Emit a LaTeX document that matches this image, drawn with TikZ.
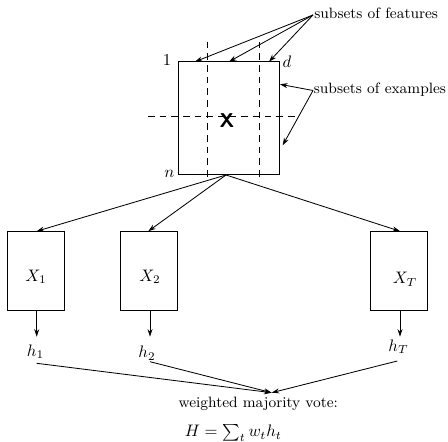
\documentclass[tikz,border=0pt]{standalone}
\usetikzlibrary{arrows.meta}
\begin{document}
\begin{tikzpicture}[x=0.6pt,y=-0.6pt,
  >={Stealth[length=4.5pt,width=3pt]},
  box/.style={draw,line width=0.6pt,inner sep=0pt},
  dashline/.style={line width=0.5pt,dash pattern=on 4pt off 3pt},
  conn/.style={->,line width=0.5pt},
  lbl/.style={font=\fontsize{9}{11}\selectfont,inner sep=0pt}]
\useasboundingbox (0,0) rectangle (448,442);
% main matrix
\node[box,minimum width=60.6pt,minimum height=67.6pt] (M) at (228.5,118) {};
\draw[dashline] (207.3,41.7) -- (207.3,181.7);
\draw[dashline] (259.3,41.7) -- (259.3,181.7);
\draw[dashline] (148,116) -- (298,116);
\node[font=\sffamily\bfseries\fontsize{12}{14}\selectfont,inner sep=0pt] (X) at (227,120.5) {X};
\node (one) at (167,60.5) {$1$};
\node (dd) at (287,61.5) {$d$};
\node (nn) at (169.5,174) {$n$};
% annotations
\node[lbl,anchor=base west] (F) at (314,18.5) {subsets of features};
\node[lbl,anchor=base west] (E) at (313.5,94) {subsets of examples};
\coordinate (Fs) at (313,15);
\coordinate (Es) at (313,90.5);
\coordinate (t1) at (195,61.7);
\coordinate (t2) at (229,61.7);
\coordinate (t3) at (269,61.7);
\coordinate (e1) at (280,84.3);
\coordinate (e2) at (282.7,145.3);
\draw[conn] (Fs) -- (t1);
\draw[conn] (Fs) -- (t2);
\draw[conn] (Fs) -- (t3);
\draw[conn] (Es) -- (e1);
\draw[conn] (Es) -- (e2);
% sub boxes
\coordinate (Mb) at (226,175);
\node[box,minimum width=34.2pt,minimum height=47.4pt] (B1) at (35.8,271.2) {};
\node[box,minimum width=34pt,minimum height=47.4pt] (B2) at (149,271.2) {};
\node[box,minimum width=34.2pt,minimum height=47.4pt] (BT) at (399.2,271.2) {};
\node (X1) at (36,276.7) {$X_1$};
\node (X2) at (150,276.7) {$X_2$};
\node (XT) at (405,279.3) {$X_T$};
\draw[conn] (Mb) -- (B1.north -| 36.7,0);
\draw[conn] (Mb) -- (B2.north -| 148.3,0);
\draw[conn] (Mb) -- (BT.north -| 400,0);
% hypotheses
\node (h1) at (35.5,351.7) {$h_1$};
\node (h2) at (147,353.3) {$h_2$};
\node (hT) at (398.5,346.7) {$h_T$};
\draw[conn] (B1.south -| 36.7,0) -- (36.7,336.7);
\draw[conn] (B2.south -| 150,0) -- (150,336.7);
\draw[conn] (BT.south -| 400,0) -- (400,336.7);
\coordinate (V) at (271.7,392.7);
\coordinate (s1) at (36.7,363.3);
\coordinate (s2) at (150,361.7);
\coordinate (sT) at (397.3,361);
\draw[conn] (s1) -- (V);
\draw[conn] (s2) -- (V);
\draw[conn] (sT) -- (V);
\node[lbl] (W) at (258.3,404) {weighted majority vote:};
\node[inner sep=0pt] (H) at (233.3,433) {$H=\sum_t w_t h_t$};
\end{tikzpicture}
\end{document}
